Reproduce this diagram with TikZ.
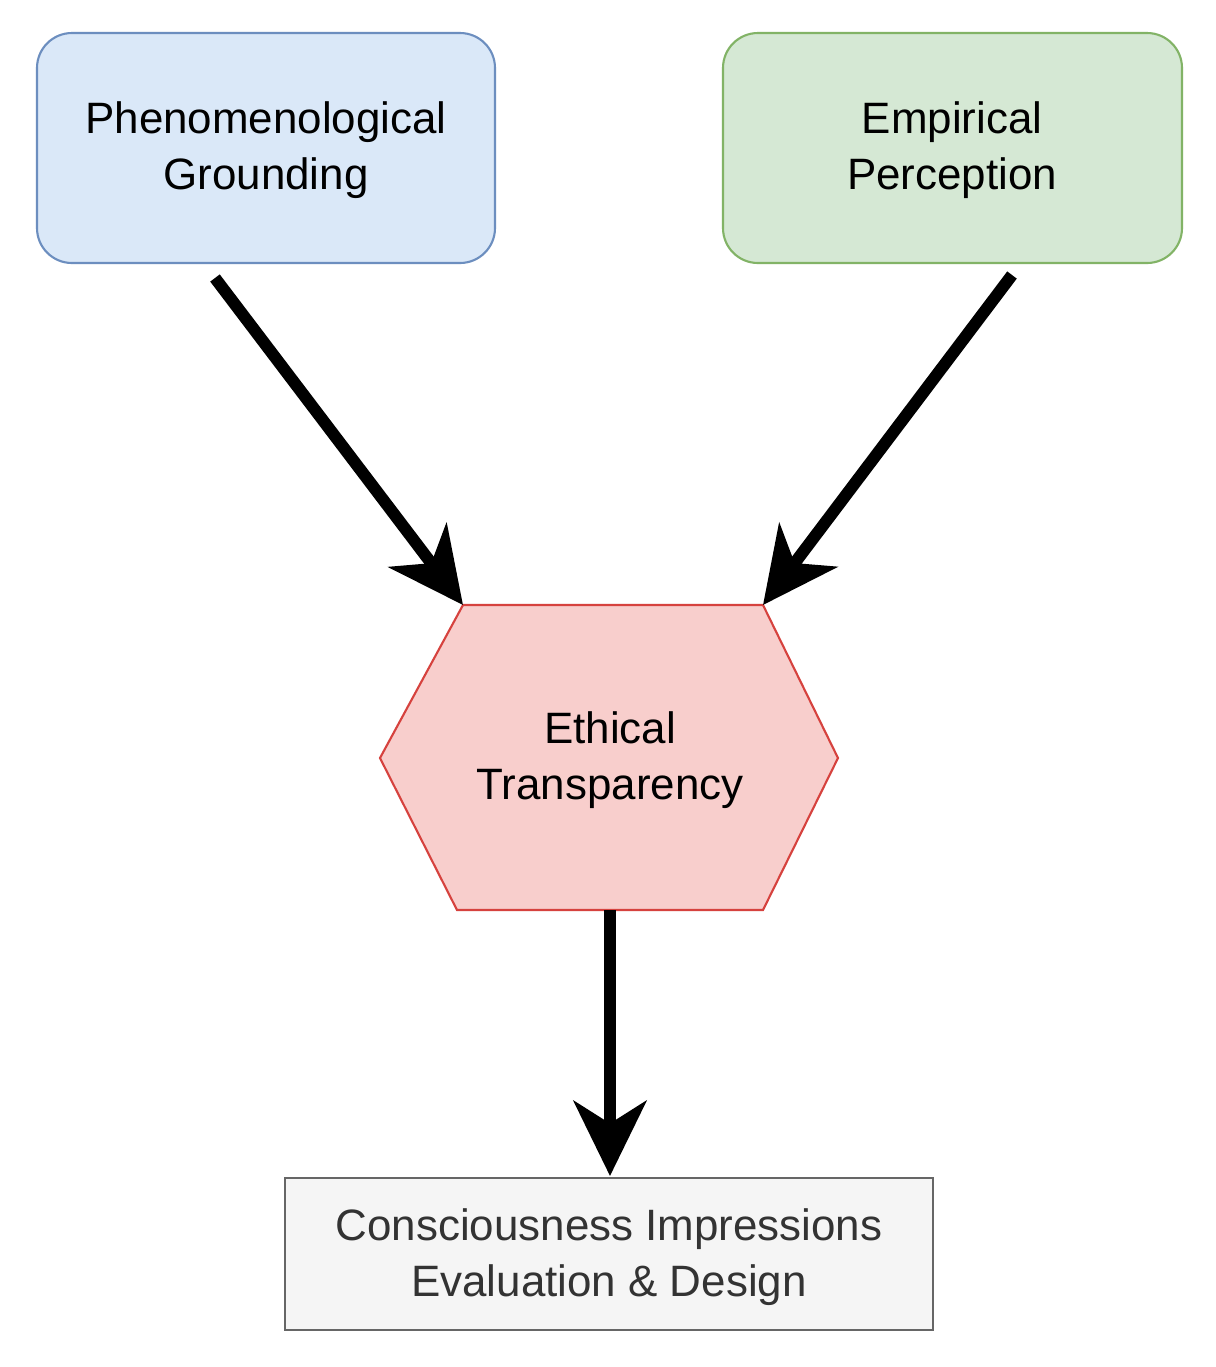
\documentclass[tikz,border=0pt]{standalone}
\usepackage{fontspec}
\setmainfont{Liberation Sans}
\usetikzlibrary{arrows.meta}
\begin{document}
\begin{tikzpicture}[x=0.02cm,y=-0.02cm,
  txt/.style={font=\fontsize{25}{32}\selectfont,align=center},
  box/.style={rounded corners=0.7cm,line width=1.2pt},
  arr/.style={line width=6.8pt,-{Stealth[length=1.5cm,width=1.45cm,inset=0.45cm]}}]
\useasboundingbox[fill=white] (0,0) rectangle (1215,1367);
\draw[box,fill={rgb,255:red,218;green,232;blue,248},draw={rgb,255:red,108;green,142;blue,191}] (37,33) rectangle (495,263);
\node[txt] (pg) at (266,150) {Phenomenological\\Grounding};
\draw[box,fill={rgb,255:red,213;green,232;blue,212},draw={rgb,255:red,130;green,179;blue,102}] (723,33) rectangle (1182,263);
\node[txt] (ep) at (952,150) {Empirical\\Perception};
\draw[line width=1.2pt,fill={rgb,255:red,248;green,206;blue,204},draw={rgb,255:red,214;green,66;blue,62}]
 (380,758) -- (463,605) coordinate (hl) -- (763,605) coordinate (hr) -- (838,758) -- (763,910) -- (457,910) -- cycle;
\node[txt] (et) at (610,760) {Ethical\\Transparency};
\coordinate (etb) at (610,910);
\draw[line width=1.2pt,fill={rgb,255:red,245;green,245;blue,245},draw={rgb,255:red,102;green,102;blue,102}] (285,1178) rectangle (933,1330);
\node[txt,text={rgb,255:red,51;green,51;blue,51}] (ci) at (609,1257) {Consciousness Impressions\\Evaluation \& Design};
\coordinate (cit) at (610,1176);
\coordinate (a1) at (215,278);
\coordinate (a2) at (1012,275);
\draw[arr] (a1) -- (hl);
\draw[arr] (a2) -- (hr);
\draw[arr] (etb) -- (cit);
\end{tikzpicture}
\end{document}
